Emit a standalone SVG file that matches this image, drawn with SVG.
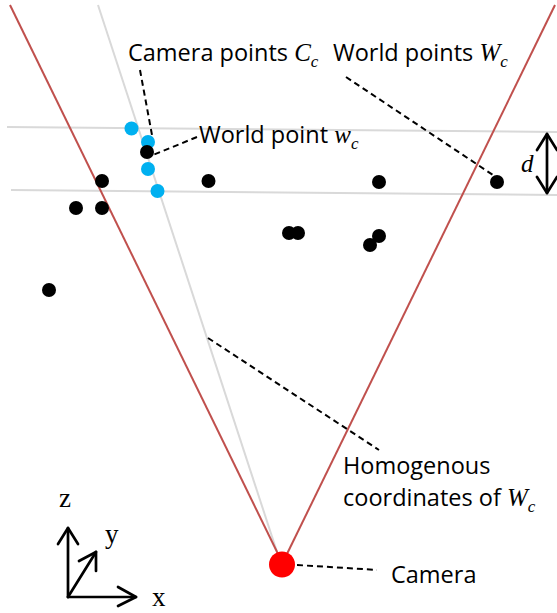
<svg xmlns="http://www.w3.org/2000/svg" width="557" height="613" viewBox="0 0 557 613">
<style>
.lbl{font-family:"Open Sans","Noto Sans",sans-serif;font-size:23.5px;fill:#000}
.math{font-family:"Liberation Serif","DejaVu Serif",serif;font-style:italic;font-size:25px}
.sub{font-family:"Liberation Serif","DejaVu Serif",serif;font-style:italic;font-size:17px}
.ax{font-family:"Liberation Serif","Times New Roman",serif;font-size:27px;fill:#000}
.red{stroke:#C0504D;stroke-width:2;fill:none}
.gray{stroke:#D9D9D9;stroke-width:2;fill:none}
.dash{stroke:#000;stroke-width:2;stroke-dasharray:6 4;fill:none}
.arr{stroke:#000;stroke-width:2.7;fill:none;stroke-linecap:round;stroke-linejoin:round}
.wp{fill:#000}
.cp{fill:#00B0F0}
</style>
<g id="frustum">
<line class="gray" x1="7" y1="127" x2="557" y2="132"/>
<line class="gray" x1="11" y1="190" x2="557" y2="195"/>
<line class="gray" x1="98" y1="5" x2="279" y2="558"/>
<line class="red" x1="10" y1="5" x2="280" y2="558"/>
<line class="red" x1="555" y1="5" x2="285" y2="558"/>
</g>
<g id="world-points">
<circle class="wp" cx="102" cy="181" r="7"/>
<circle class="wp" cx="208.5" cy="181" r="7"/>
<circle class="wp" cx="379" cy="182" r="7"/>
<circle class="wp" cx="497" cy="182" r="7"/>
<circle class="wp" cx="76" cy="208" r="7"/>
<circle class="wp" cx="102" cy="208" r="7"/>
<circle class="wp" cx="289" cy="233" r="7"/>
<circle class="wp" cx="298" cy="233" r="7"/>
<circle class="wp" cx="379" cy="236" r="7"/>
<circle class="wp" cx="370" cy="245" r="7"/>
<circle class="wp" cx="49" cy="290" r="7"/>
</g>
<g id="camera-points">
<circle class="cp" cx="131.5" cy="128.5" r="7"/>
<circle class="cp" cx="148" cy="142" r="7"/>
<circle class="cp" cx="148" cy="169" r="7"/>
<circle class="cp" cx="157.5" cy="191" r="7"/>
</g>
<g id="world-point-wc">
<circle class="wp" cx="147" cy="152" r="7"/>
</g>
<g id="camera">
<circle cx="282" cy="564.5" r="13" fill="#FF0000"/>
</g>
<g id="connectors">
<line class="dash" x1="140" y1="70" x2="152" y2="135"/>
<line class="dash" x1="197" y1="137" x2="153" y2="155"/>
<line class="dash" x1="346" y1="77" x2="493" y2="175"/>
<line class="dash" x1="208" y1="338" x2="379" y2="450"/>
<line class="dash" x1="297" y1="565" x2="377" y2="570"/>
</g>
<g id="d-arrow">
<line class="arr" x1="547" y1="134" x2="547" y2="193"/>
<polyline class="arr" points="537,150 547,134 557,150"/>
<polyline class="arr" points="537,177 547,193 557,177"/>
<text class="math" x="521" y="172" fill="#000">d</text>
</g>
<g id="labels">
<text class="lbl" x="128" y="61">Camera points <tspan class="math">C</tspan><tspan class="sub" dy="6">c</tspan></text>
<text class="lbl" x="333" y="61">World points <tspan class="math">W</tspan><tspan class="sub" dy="6">c</tspan></text>
<text class="lbl" x="199" y="143">World point <tspan class="math">w</tspan><tspan class="sub" dy="6">c</tspan></text>
<text class="lbl" x="343" y="474">Homogenous</text>
<text class="lbl" x="343" y="506">coordinates of <tspan class="math">W</tspan><tspan class="sub" dy="6">c</tspan></text>
<text class="lbl" x="391" y="583">Camera</text>
</g>
<g id="axes">
<line class="arr" x1="68" y1="597" x2="68" y2="528"/>
<polyline class="arr" points="58,544 68,528 78,544"/>
<line class="arr" x1="68" y1="597" x2="136" y2="597"/>
<polyline class="arr" points="118,587 136,597 118,606"/>
<line class="arr" x1="68" y1="597" x2="96" y2="552"/>
<polyline class="arr" points="79,561 96,552 96,571"/>
<text class="ax" x="59" y="507">z</text>
<text class="ax" x="105" y="543">y</text>
<text class="ax" x="152" y="606">x</text>
</g>
</svg>
